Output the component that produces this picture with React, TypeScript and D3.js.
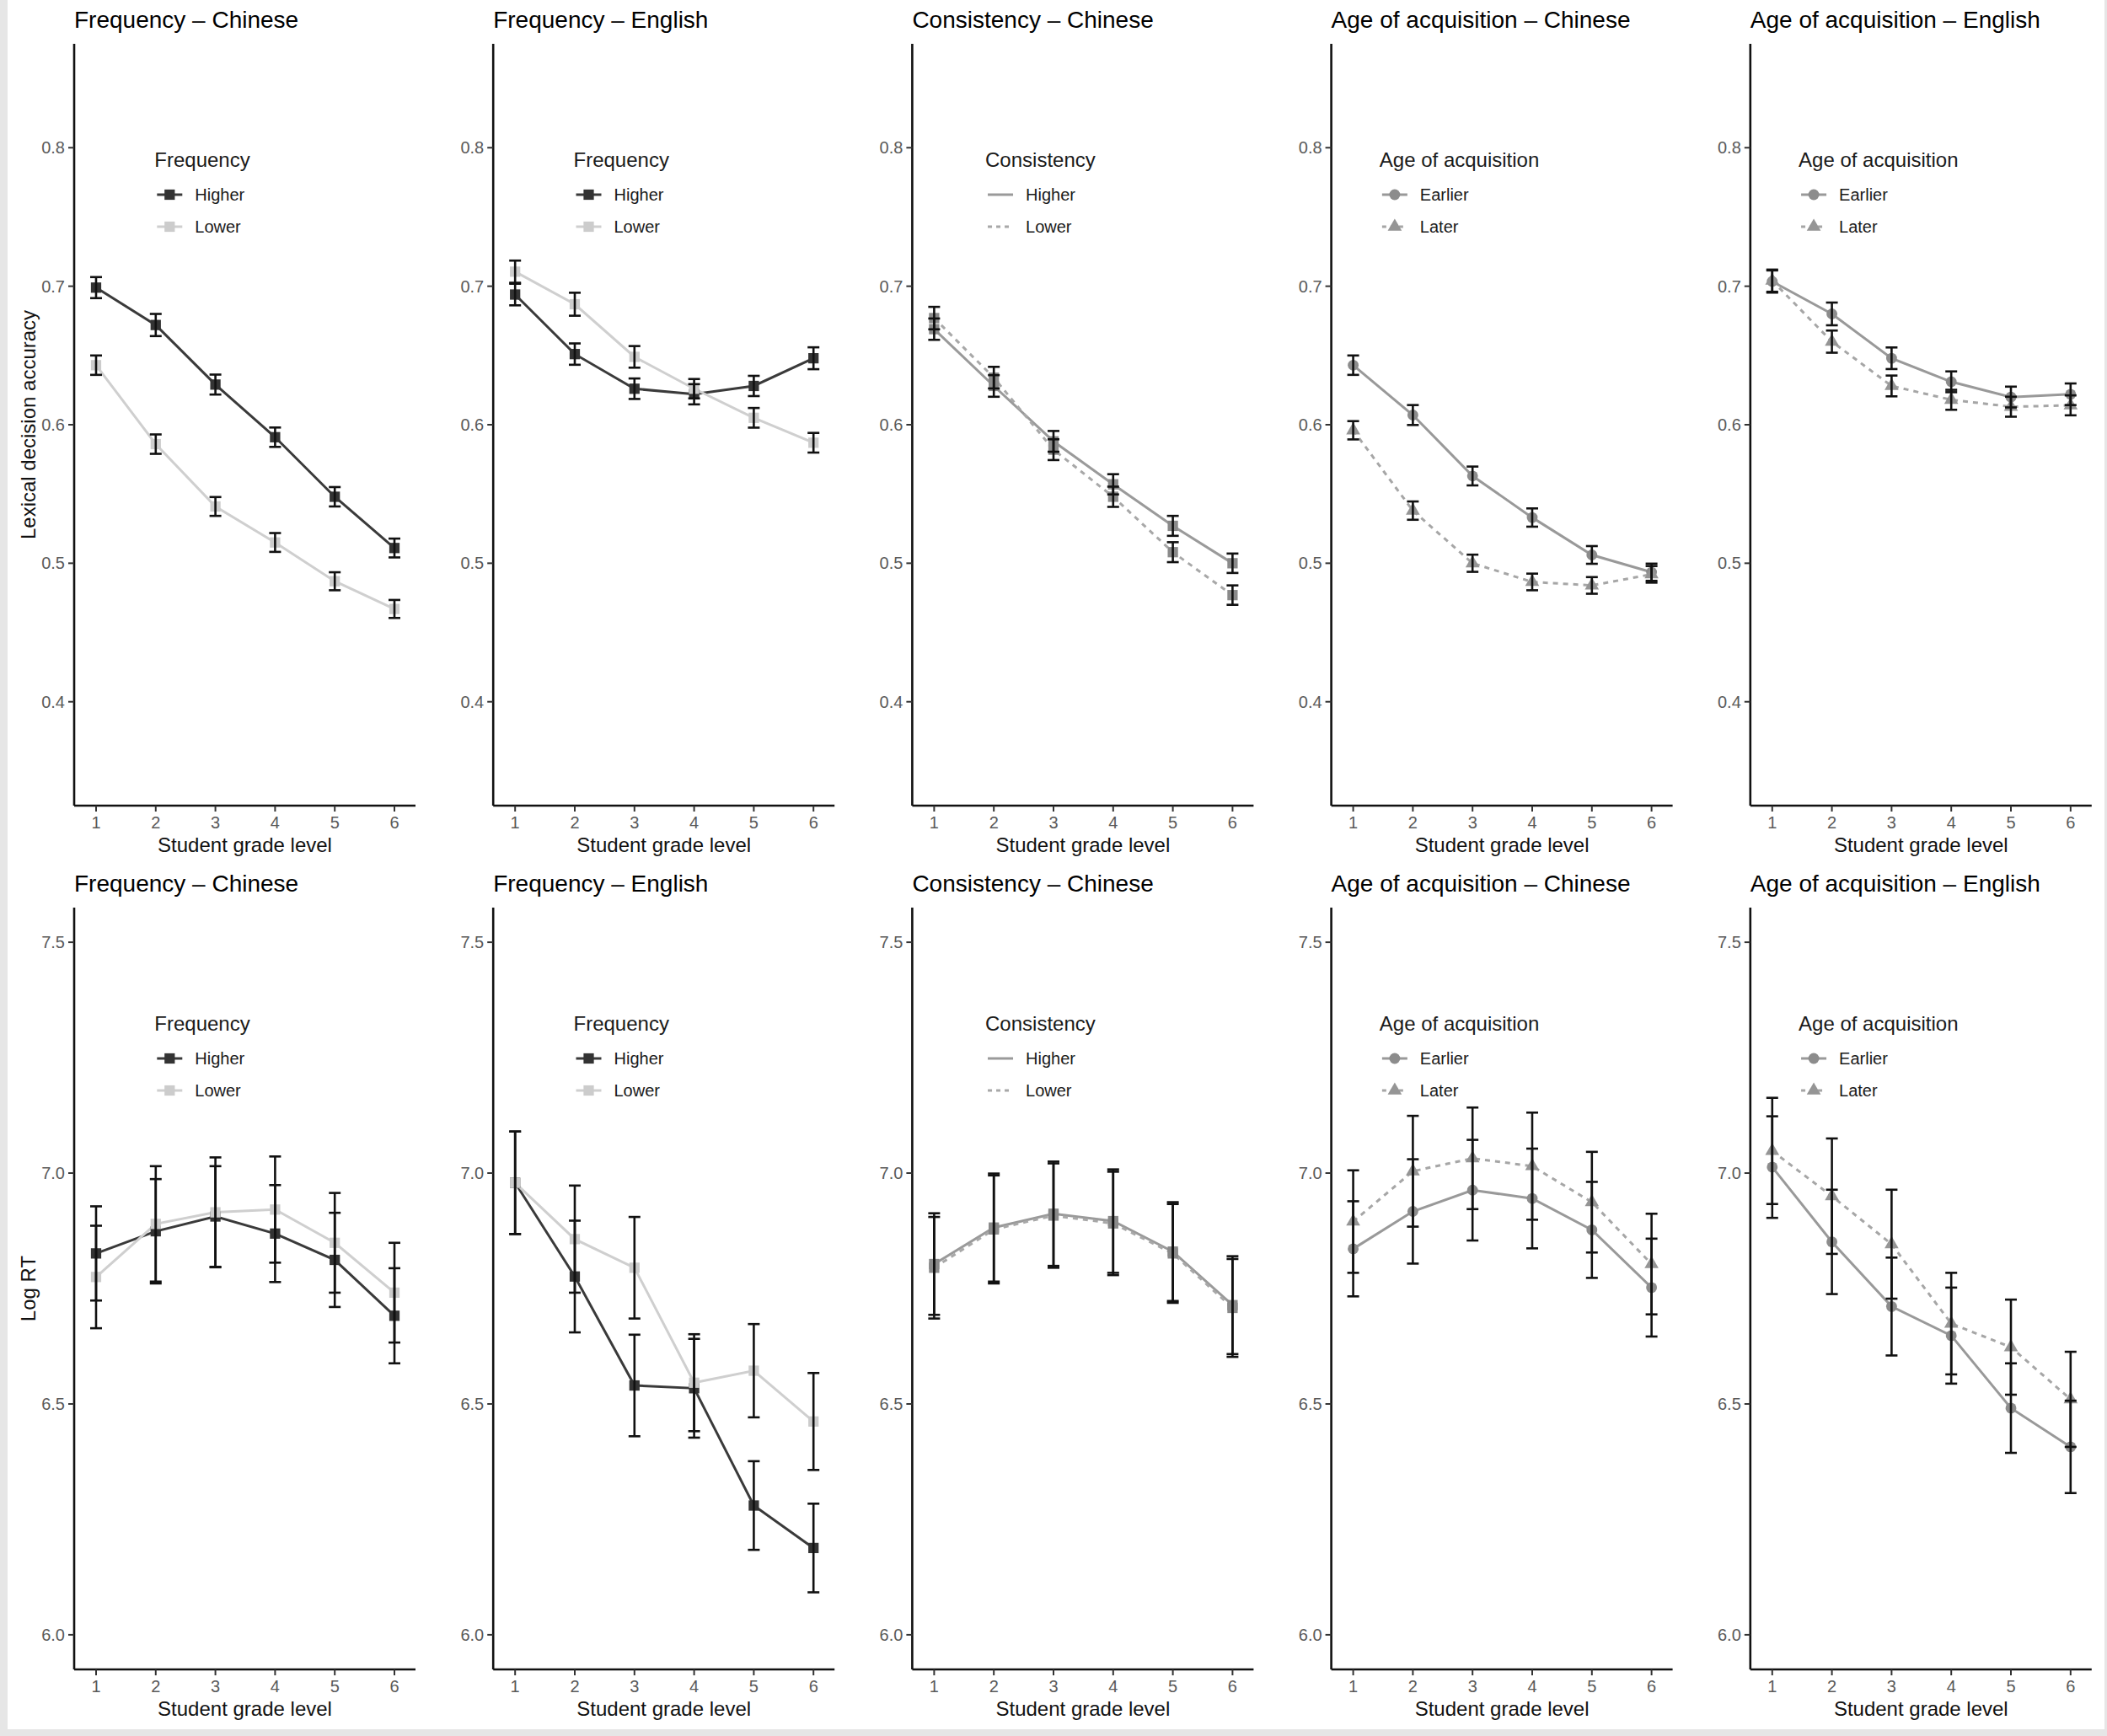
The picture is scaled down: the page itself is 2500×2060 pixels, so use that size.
import * as d3 from "d3";

// grades on the x axis
const grades = [1, 2, 3, 4, 5, 6];

const panelTitles = [
  "Frequency \u2013 Chinese",
  "Frequency \u2013 English",
  "Consistency \u2013 Chinese",
  "Age of acquisition \u2013 Chinese",
  "Age of acquisition \u2013 English",
];

// top row: lexical decision accuracy
const accFreqZhHigher = [0.699, 0.672, 0.629, 0.591, 0.548, 0.511];
const accFreqZhHigherErr = [0.0076, 0.008, 0.0072, 0.007, 0.007, 0.0068];
const accFreqZhLower = [0.643, 0.586, 0.541, 0.515, 0.487, 0.467];
const accFreqZhLowerErr = [0.007, 0.007, 0.0068, 0.0068, 0.0065, 0.0065];

const accFreqEnHigher = [0.694, 0.651, 0.626, 0.622, 0.628, 0.648];
const accFreqEnHigherErr = [0.0078, 0.0077, 0.0074, 0.0073, 0.0073, 0.0079];
const accFreqEnLower = [0.7105, 0.687, 0.649, 0.626, 0.605, 0.587];
const accFreqEnLowerErr = [0.008, 0.0083, 0.0078, 0.007, 0.0071, 0.0071];

const accConsZhHigher = [0.669, 0.628, 0.588, 0.557, 0.527, 0.5];
const accConsZhHigherErr = [0.0077, 0.0078, 0.0075, 0.0073, 0.0072, 0.007];
const accConsZhLower = [0.677, 0.634, 0.582, 0.548, 0.508, 0.477];
const accConsZhLowerErr = [0.0081, 0.0078, 0.0075, 0.0073, 0.0072, 0.007];

const accAoaZhEarlier = [0.643, 0.607, 0.563, 0.533, 0.506, 0.4935];
const accAoaZhEarlierErr = [0.007, 0.0072, 0.0068, 0.0066, 0.0064, 0.0062];
const accAoaZhLater = [0.596, 0.538, 0.5, 0.4865, 0.484, 0.492];
const accAoaZhLaterErr = [0.0066, 0.0066, 0.0062, 0.006, 0.006, 0.006];

const accAoaEnEarlier = [0.7034, 0.68, 0.648, 0.631, 0.62, 0.622];
const accAoaEnEarlierErr = [0.008, 0.0082, 0.0078, 0.0075, 0.0075, 0.0078];
const accAoaEnLater = [0.704, 0.66, 0.628, 0.618, 0.613, 0.614];
const accAoaEnLaterErr = [0.008, 0.008, 0.0075, 0.0072, 0.0072, 0.0072];

// bottom row: log RT
const rtFreqZhHigher = [6.826, 6.874, 6.906, 6.869, 6.812, 6.691];
const rtFreqZhHigherErr = [0.102, 0.113, 0.109, 0.105, 0.102, 0.103];
const rtFreqZhLower = [6.775, 6.89, 6.915, 6.921, 6.849, 6.741];
const rtFreqZhLowerErr = [0.111, 0.125, 0.119, 0.115, 0.108, 0.108];

const rtFreqEnHigher = [6.979, 6.776, 6.54, 6.534, 6.28, 6.188];
const rtFreqEnHigherErr = [0.111, 0.121, 0.11, 0.107, 0.096, 0.096];
const rtFreqEnLower = [6.979, 6.857, 6.795, 6.546, 6.572, 6.462];
const rtFreqEnLowerErr = [0.111, 0.116, 0.11, 0.105, 0.101, 0.105];

const rtConsZhHigher = [6.803, 6.882, 6.912, 6.896, 6.83, 6.714];
const rtConsZhHigherErr = [0.11, 0.117, 0.113, 0.112, 0.107, 0.106];
const rtConsZhLower = [6.795, 6.878, 6.908, 6.891, 6.826, 6.708];
const rtConsZhLowerErr = [0.11, 0.117, 0.113, 0.112, 0.107, 0.106];

const rtAoaZhEarlier = [6.836, 6.917, 6.963, 6.945, 6.877, 6.752];
const rtAoaZhEarlierErr = [0.103, 0.113, 0.109, 0.108, 0.104, 0.106];
const rtAoaZhLater = [6.895, 7.004, 7.032, 7.015, 6.937, 6.803];
const rtAoaZhLaterErr = [0.111, 0.12, 0.11, 0.116, 0.109, 0.109];

const rtAoaEnEarlier = [7.013, 6.851, 6.711, 6.648, 6.491, 6.407];
const rtAoaEnEarlierErr = [0.11, 0.113, 0.106, 0.104, 0.097, 0.1];
const rtAoaEnLater = [7.048, 6.95, 6.846, 6.674, 6.623, 6.51];
const rtAoaEnLaterErr = [0.115, 0.125, 0.118, 0.11, 0.103, 0.103];

const accTicks = [0.4, 0.5, 0.6, 0.7, 0.8];
const rtTicks = [6.0, 6.5, 7.0, 7.5];

const FONT = "'Liberation Sans', Arial, Helvetica, sans-serif";
const W = 2500;
const H = 2060;

type Series = {
  label: string;
  values: number[];
  errors: number[];
  line: string;
  fill: string;
  dash?: string;
  shape: d3.SymbolType | null;
  size: number;
  legendShape: boolean;
};

const freqStyle = (hi: boolean) => ({
  line: hi ? "#3a3a3a" : "#cfcfcf",
  fill: hi ? "#333333" : "#cccccc",
  shape: d3.symbolSquare,
  size: 150,
  legendShape: true,
});
const consStyle = (hi: boolean) => ({
  line: hi ? "#9a9a9a" : "#a8a8a8",
  fill: "#8a8a8a",
  dash: hi ? undefined : "6 6",
  shape: d3.symbolSquare,
  size: 150,
  legendShape: false,
});
const aoaStyle = (early: boolean) => ({
  line: early ? "#999999" : "#a6a6a6",
  fill: early ? "#8c8c8c" : "#959595",
  dash: early ? undefined : "6 6",
  shape: early ? d3.symbolCircle : d3.symbolTriangle,
  size: early ? 130 : 120,
  legendShape: true,
});

const legendTitles = ["Frequency", "Frequency", "Consistency", "Age of acquisition", "Age of acquisition"];

const accSeries: Series[][] = [
  [
    { label: "Higher", values: accFreqZhHigher, errors: accFreqZhHigherErr, ...freqStyle(true) },
    { label: "Lower", values: accFreqZhLower, errors: accFreqZhLowerErr, ...freqStyle(false) },
  ],
  [
    { label: "Higher", values: accFreqEnHigher, errors: accFreqEnHigherErr, ...freqStyle(true) },
    { label: "Lower", values: accFreqEnLower, errors: accFreqEnLowerErr, ...freqStyle(false) },
  ],
  [
    { label: "Higher", values: accConsZhHigher, errors: accConsZhHigherErr, ...consStyle(true) },
    { label: "Lower", values: accConsZhLower, errors: accConsZhLowerErr, ...consStyle(false) },
  ],
  [
    { label: "Earlier", values: accAoaZhEarlier, errors: accAoaZhEarlierErr, ...aoaStyle(true) },
    { label: "Later", values: accAoaZhLater, errors: accAoaZhLaterErr, ...aoaStyle(false) },
  ],
  [
    { label: "Earlier", values: accAoaEnEarlier, errors: accAoaEnEarlierErr, ...aoaStyle(true) },
    { label: "Later", values: accAoaEnLater, errors: accAoaEnLaterErr, ...aoaStyle(false) },
  ],
];

const rtSeries: Series[][] = [
  [
    { label: "Higher", values: rtFreqZhHigher, errors: rtFreqZhHigherErr, ...freqStyle(true) },
    { label: "Lower", values: rtFreqZhLower, errors: rtFreqZhLowerErr, ...freqStyle(false) },
  ],
  [
    { label: "Higher", values: rtFreqEnHigher, errors: rtFreqEnHigherErr, ...freqStyle(true) },
    { label: "Lower", values: rtFreqEnLower, errors: rtFreqEnLowerErr, ...freqStyle(false) },
  ],
  [
    { label: "Higher", values: rtConsZhHigher, errors: rtConsZhHigherErr, ...consStyle(true) },
    { label: "Lower", values: rtConsZhLower, errors: rtConsZhLowerErr, ...consStyle(false) },
  ],
  [
    { label: "Earlier", values: rtAoaZhEarlier, errors: rtAoaZhEarlierErr, ...aoaStyle(true) },
    { label: "Later", values: rtAoaZhLater, errors: rtAoaZhLaterErr, ...aoaStyle(false) },
  ],
  [
    { label: "Earlier", values: rtAoaEnEarlier, errors: rtAoaEnEarlierErr, ...aoaStyle(true) },
    { label: "Later", values: rtAoaEnLater, errors: rtAoaEnLaterErr, ...aoaStyle(false) },
  ],
];

// panel geometry
const colStep = 497.2;
const axisX0 = 88;
const plotW = 405;
const rowTop = [52, 1077];
const plotH = 904;
const legendCenter = 152; // legend box is centred at this offset from the y axis

// width of a legend title, so the box can be centred like ggplot does
let measureCtx: CanvasRenderingContext2D | null = null;
function textWidth(s: string, size: number) {
  if (!measureCtx) measureCtx = document.createElement("canvas").getContext("2d");
  if (!measureCtx) return s.length * size * 0.55;
  measureCtx.font = `${size}px 'Liberation Sans', Arial, sans-serif`;
  return measureCtx.measureText(s).width;
}

function Panel({
  col,
  row,
  title,
  legendTitle,
  series,
  yDomain,
  yTicks,
}: {
  col: number;
  row: number;
  title: string;
  legendTitle: string;
  series: Series[];
  yDomain: [number, number];
  yTicks: number[];
}) {
  const x0 = axisX0 + col * colStep;
  const top = rowTop[row];
  const bottom = top + plotH;
  const x = d3.scaleLinear().domain([0.633, 6.353]).range([x0, x0 + plotW]);
  const y = d3.scaleLinear().domain(yDomain).range([bottom, top]);
  const fmt = d3.format(".1f");
  const line = d3
    .line<number>()
    .x((_, i) => x(grades[i]))
    .y((d) => y(d));
  const sym = (s: Series) => (s.shape ? d3.symbol().type(s.shape).size(s.size)() : "");

  const boxW = Math.max(
    textWidth(legendTitle, 24),
    48 + d3.max(series, (s) => textWidth(s.label, 20))!
  );
  const lx = x0 + legendCenter - boxW / 2;

  return (
    <g>
      <text x={x0} y={top - 19} fontSize={28} fill="#000" fontFamily={FONT}>
        {title}
      </text>
      {/* y axis */}
      <line x1={x0} x2={x0} y1={top} y2={bottom} stroke="#111" strokeWidth={2.6} />
      {yTicks.map((t) => (
        <g key={t}>
          <line x1={x0 - 7} x2={x0} y1={y(t)} y2={y(t)} stroke="#333" strokeWidth={2} />
          <text
            x={x0 - 11}
            y={y(t)}
            dy="0.35em"
            textAnchor="end"
            fontSize={20}
            fill="#5a5a5a"
            fontFamily={FONT}
          >
            {fmt(t)}
          </text>
        </g>
      ))}
      {/* x axis */}
      <line x1={x0} x2={x0 + plotW} y1={bottom} y2={bottom} stroke="#111" strokeWidth={2.6} />
      {grades.map((g) => (
        <g key={g}>
          <line x1={x(g)} x2={x(g)} y1={bottom} y2={bottom + 7} stroke="#333" strokeWidth={2} />
          <text
            x={x(g)}
            y={bottom + 27}
            textAnchor="middle"
            fontSize={20}
            fill="#5a5a5a"
            fontFamily={FONT}
          >
            {g}
          </text>
        </g>
      ))}
      <text
        x={x0 + plotW / 2}
        y={bottom + 55}
        textAnchor="middle"
        fontSize={24}
        fill="#111"
        fontFamily={FONT}
      >
        Student grade level
      </text>
      {/* series */}
      {series.map((s) => (
        <path
          key={"l" + s.label}
          d={line(s.values) || ""}
          fill="none"
          stroke={s.line}
          strokeWidth={3}
          strokeDasharray={s.dash}
        />
      ))}
      {series.map((s) =>
        s.values.map((v, i) => (
          <path
            key={"p" + s.label + i}
            d={sym(s)}
            transform={`translate(${x(grades[i])},${y(v)})`}
            fill={s.fill}
          />
        ))
      )}
      {series.map((s) =>
        s.values.map((v, i) => {
          const cx = x(grades[i]);
          const y1 = y(v + s.errors[i]);
          const y2 = y(v - s.errors[i]);
          return (
            <g key={"e" + s.label + i} stroke="#111" strokeWidth={2.6}>
              <line x1={cx} x2={cx} y1={y1} y2={y2} />
              <line x1={cx - 7} x2={cx + 7} y1={y1} y2={y1} />
              <line x1={cx - 7} x2={cx + 7} y1={y2} y2={y2} />
            </g>
          );
        })
      )}
      {/* legend */}
      <g fontFamily={FONT}>
        <text x={lx} y={top + 146} fontSize={24} fill="#1a1a1a">
          {legendTitle}
        </text>
        {series.map((s, i) => {
          const cy = top + 179 + i * 38;
          return (
            <g key={"k" + s.label}>
              <line
                x1={lx + 3}
                x2={lx + 33}
                y1={cy}
                y2={cy}
                stroke={s.line}
                strokeWidth={3}
                strokeDasharray={s.dash ? "5 5" : undefined}
              />
              {s.legendShape && (
                <path d={sym(s)} transform={`translate(${lx + 18},${cy})`} fill={s.fill} />
              )}
              <text x={lx + 48} y={cy} dy="0.35em" fontSize={20} fill="#1a1a1a">
                {s.label}
              </text>
            </g>
          );
        })}
      </g>
    </g>
  );
}

export default function App() {
  return (
    <div style={{ position: "absolute", left: 0, top: 0 }}>
      <svg width={W} height={H} viewBox={`0 0 ${W} ${H}`} style={{ display: "block" }}>
        <rect x={0} y={0} width={W} height={H} fill="#e6e6e6" />
        <rect x={9} y={0} width={W - 12} height={H - 8} fill="#ffffff" />
        {panelTitles.map((t, c) => (
          <Panel
            key={"a" + c}
            col={c}
            row={0}
            title={t}
            legendTitle={legendTitles[c]}
            series={accSeries[c]}
            yDomain={[0.325, 0.875]}
            yTicks={accTicks}
          />
        ))}
        {panelTitles.map((t, c) => (
          <Panel
            key={"r" + c}
            col={c}
            row={1}
            title={t}
            legendTitle={legendTitles[c]}
            series={rtSeries[c]}
            yDomain={[5.925, 7.575]}
            yTicks={rtTicks}
          />
        ))}
        <text
          transform={`translate(34,${rowTop[0] + plotH / 2}) rotate(-90)`}
          textAnchor="middle"
          dy="0.35em"
          fontSize={24}
          fill="#111"
          fontFamily={FONT}
        >
          Lexical decision accuracy
        </text>
        <text
          transform={`translate(34,${rowTop[1] + plotH / 2}) rotate(-90)`}
          textAnchor="middle"
          dy="0.35em"
          fontSize={24}
          fill="#111"
          fontFamily={FONT}
        >
          Log RT
        </text>
      </svg>
    </div>
  );
}
